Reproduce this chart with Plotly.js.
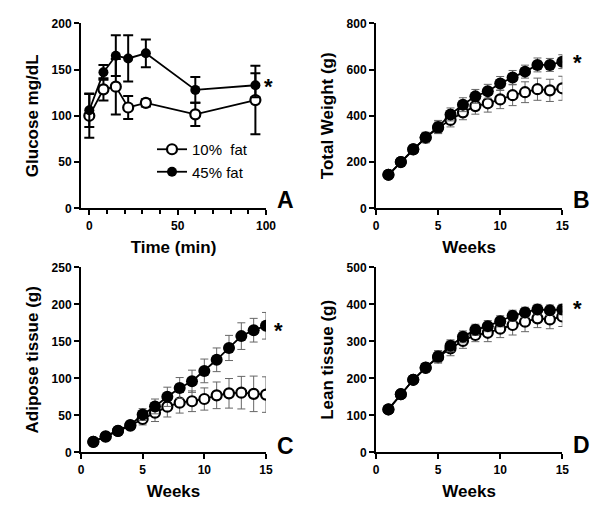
<!DOCTYPE html>
<html>
<head>
<meta charset="utf-8">
<script src="https://cdn.plot.ly/plotly-3.0.1.min.js"></script>
<style>html,body{margin:0;padding:0;background:#fff;}#chart{width:602px;height:512px;}</style>
</head>
<body>
<div id="chart"></div>
<script>
// ---- Panel A: glucose tolerance ----
const timeMin = [0, 8, 15, 22, 32, 60, 94];
const glucoseLow = [100, 128.6, 131.5, 109, 114, 101.6, 117];
const glucoseLowErr = [23.6, 12, 30, 12.5, 4, 12.6, 37];
const glucoseHigh = [106, 147, 165, 162, 167.6, 128, 133];
const glucoseHighErr = [18, 8, 22, 25, 15, 14, 13];

// ---- Panels B-D: weekly measures ----
const weeks = [1, 2, 3, 4, 5, 6, 7, 8, 9, 10, 11, 12, 13, 14, 15];
const weightLow = [145, 200, 255, 305, 348, 382, 415, 442, 454, 471, 489, 502, 515, 510, 519];
const weightLowErr = [12, 15, 18, 22, 25, 30, 32, 35, 38, 40, 45, 45, 48, 48, 52];
const weightHigh = [145, 200, 255, 307, 352, 406, 448, 484, 506, 540, 566, 591, 620, 620, 634];
const weightHighErr = [12, 15, 18, 22, 28, 28, 30, 30, 30, 30, 30, 28, 30, 28, 30];

const adiposeLow = [14, 21, 29, 36, 45, 53.6, 61.7, 67, 69, 72, 77, 79.7, 80.6, 79, 78];
const adiposeLowErr = [2, 3, 4, 5, 8, 12, 14, 14, 14, 15, 18, 20, 22, 24, 24];
const adiposeHigh = [14.4, 21.6, 28.8, 37, 51, 62, 75, 87, 96, 110, 125, 141, 157, 165, 171];
const adiposeHighErr = [2, 3, 4, 5, 8, 10, 13, 14, 15, 16, 16, 17, 18, 16, 18];

const leanLow = [116, 157, 196, 228, 257, 281, 301, 317, 323, 334, 344, 353, 362, 359, 367];
const leanLowErr = [6, 8, 10, 12, 16, 20, 20, 18, 24, 24, 27, 27, 25, 25, 27];
const leanHigh = [116, 157, 196, 229, 259, 288, 312, 331, 341, 354, 369, 378, 386, 384, 386];
const leanHighErr = [6, 8, 10, 12, 16, 16, 16, 15, 15, 15, 15, 14, 14, 14, 14];

const seriesNames = ['10%  fat', '45% fat'];
const panelLetters = ['A', 'B', 'C', 'D'];
const yTitles = ['Glucose mg/dL', 'Total Weight (g)', 'Adipose tissue (g)', 'Lean tissue (g)'];
const xTitles = ['Time (min)', 'Weeks', 'Weeks', 'Weeks'];

const W = 602, H = 512;
const FONT = 'Arial, "Liberation Sans", Helvetica, sans-serif';

function openTrace(x, y, e, xa, ya, showLegend, big) {
  return {
    type: 'scatter', mode: 'lines+markers', x: x, y: y,
    xaxis: xa, yaxis: ya, name: seriesNames[0], showlegend: showLegend, legendrank: 1,
    line: {color: 'black', width: 1.8},
    marker: {symbol: 'circle', size: big ? 10 : 10, color: 'white', line: {color: 'black', width: 2.2}},
    error_y: big ? {type: 'data', array: e, visible: true, color: '#666', thickness: 1, width: 4}
                 : {type: 'data', array: e, visible: true, color: 'black', thickness: 2, width: 5}
  };
}
function filledTrace(x, y, e, xa, ya, showLegend, big) {
  return {
    type: 'scatter', mode: 'lines+markers', x: x, y: y,
    xaxis: xa, yaxis: ya, name: seriesNames[1], showlegend: showLegend, legendrank: 2,
    line: {color: 'black', width: 1.8},
    marker: {symbol: 'circle', size: big ? 12 : 10, color: 'black', line: {color: 'black', width: 0}},
    error_y: big ? {type: 'data', array: e, visible: true, color: '#666', thickness: 1, width: 4}
                 : {type: 'data', array: e, visible: true, color: 'black', thickness: 2, width: 5}
  };
}

const data = [
  openTrace(timeMin, glucoseLow, glucoseLowErr, 'x', 'y', true, false),
  filledTrace(timeMin, glucoseHigh, glucoseHighErr, 'x', 'y', true, false),
  openTrace(weeks, weightLow, weightLowErr, 'x2', 'y2', false, true),
  filledTrace(weeks, weightHigh, weightHighErr, 'x2', 'y2', false, true),
  openTrace(weeks, adiposeLow, adiposeLowErr, 'x3', 'y3', false, true),
  filledTrace(weeks, adiposeHigh, adiposeHighErr, 'x3', 'y3', false, true),
  openTrace(weeks, leanLow, leanLowErr, 'x4', 'y4', false, true),
  filledTrace(weeks, leanHigh, leanHighErr, 'x4', 'y4', false, true)
];

function axisBase() {
  return {
    showline: true, linecolor: 'black', linewidth: 2, mirror: false,
    ticks: 'outside', ticklen: 5, tickwidth: 2, tickcolor: 'black',
    showgrid: false, zeroline: false, fixedrange: true,
    tickfont: {family: FONT, size: 12, weight: 'bold', color: 'black'}
  };
}
function xAxis(i, domPx, range, dtick, anchor) {
  return Object.assign(axisBase(), {
    domain: [domPx[0] / W, domPx[1] / W], range: range, anchor: anchor,
    tick0: 0, dtick: dtick,
    title: {text: xTitles[i], font: {family: FONT, size: 17, weight: 'bold', color: 'black'}, standoff: 9}
  });
}
function yAxis(i, domPx, range, dtick, anchor) {
  return Object.assign(axisBase(), {
    domain: [1 - domPx[1] / H, 1 - domPx[0] / H], range: range, anchor: anchor,
    tick0: 0, dtick: dtick,
    title: {text: yTitles[i], font: {family: FONT, size: 17, weight: 'bold', color: 'black'}, standoff: 9}
  });
}

const topRow = [23.3, 208.3], botRow = [267.3, 452.3];
const leftCol = [81, 266], rightCol = [376, 562.3];

const xa1 = xAxis(0, leftCol, [-4.7, 100], 50, 'y');
xa1.minor = {dtick: 10, tick0: 0, ticks: 'outside', ticklen: 4, tickwidth: 2, tickcolor: 'black'};

function P(px, py) { return {x: px / W, y: 1 - py / H}; }
function letter(t, px, py) {
  const p = P(px, py);
  return {xref: 'paper', yref: 'paper', x: p.x, y: p.y, xanchor: 'center', yanchor: 'middle',
          text: t, showarrow: false, font: {family: FONT, size: 23, weight: 'bold', color: 'black'}};
}
function star(px, py) {
  const p = P(px, py);
  return {xref: 'paper', yref: 'paper', x: p.x, y: p.y, xanchor: 'center', yanchor: 'middle',
          text: '*', showarrow: false, font: {family: FONT, size: 22, weight: 'bold', color: 'black'}};
}

const layout = {
  width: W, height: H,
  margin: {l: 0, r: 0, t: 0, b: 0},
  paper_bgcolor: 'white', plot_bgcolor: 'white',
  font: {family: FONT, color: 'black'},
  showlegend: true,
  legend: {x: 152 / W, y: 1 - 133 / H, xanchor: 'left', yanchor: 'top',
           bgcolor: 'rgba(0,0,0,0)', borderwidth: 0, tracegroupgap: 0,
           font: {family: FONT, size: 15, color: 'black'}},
  xaxis: xa1,
  yaxis: yAxis(0, topRow, [0, 200], 50, 'x'),
  xaxis2: xAxis(1, rightCol, [0, 15], 5, 'y2'),
  yaxis2: yAxis(1, topRow, [0, 800], 200, 'x2'),
  xaxis3: xAxis(2, leftCol, [0, 15], 5, 'y3'),
  yaxis3: yAxis(2, botRow, [0, 250], 50, 'x3'),
  xaxis4: xAxis(3, rightCol, [0, 15], 5, 'y4'),
  yaxis4: yAxis(3, botRow, [0, 500], 100, 'x4'),
  annotations: [
    letter(panelLetters[0], 285.5, 200),
    letter(panelLetters[1], 581.5, 200),
    letter(panelLetters[2], 285, 445.5),
    letter(panelLetters[3], 581.5, 445),
    star(268.5, 86),
    star(577, 62),
    star(278.5, 330),
    star(577, 308)
  ]
};

Plotly.newPlot('chart', data, layout, {displayModeBar: false, staticPlot: true});
</script>
</body>
</html>
